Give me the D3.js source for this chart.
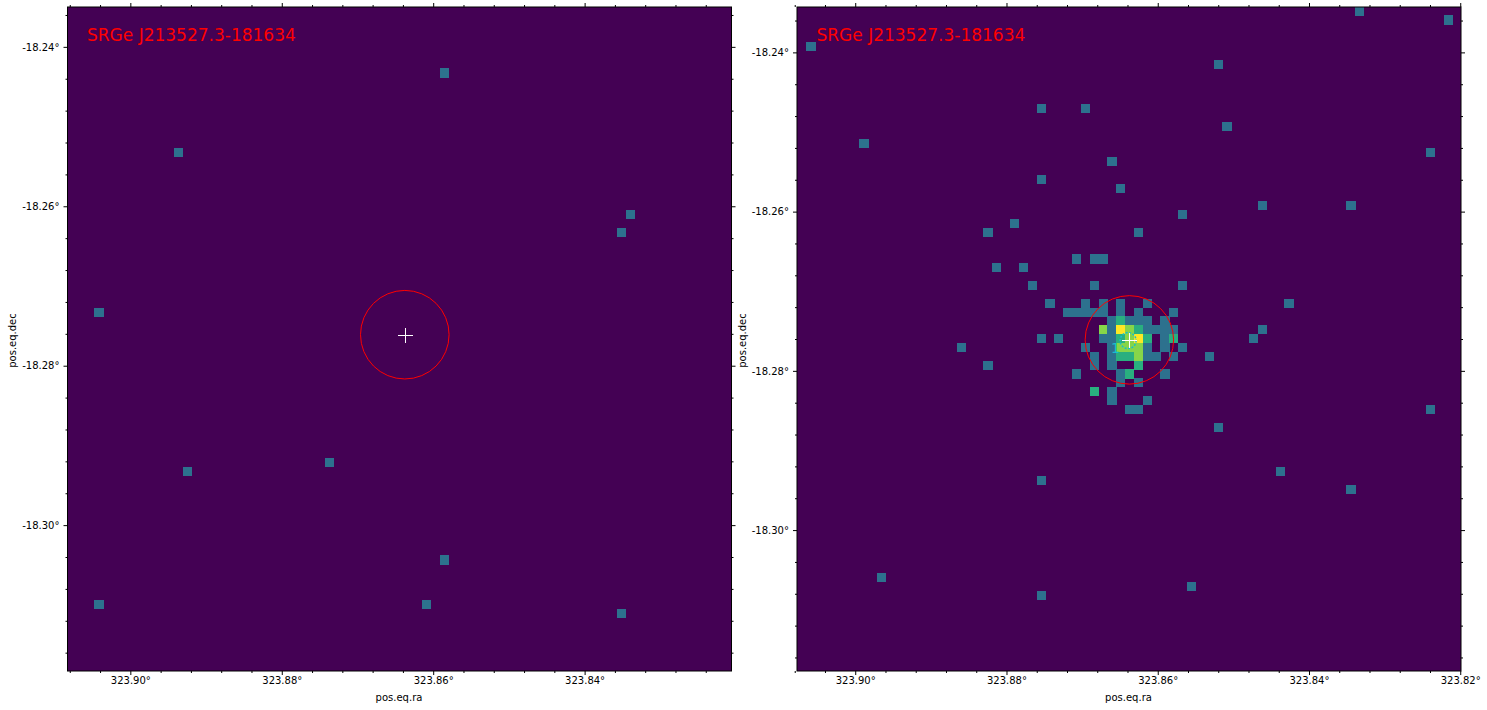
<!DOCTYPE html>
<html>
<head>
<meta charset="utf-8">
<script src="https://cdn.jsdelivr.net/npm/d3@7"></script>
<style>
  html, body { margin: 0; padding: 0; background: #fff; overflow: hidden; }
  text { font-family: "DejaVu Sans", sans-serif; }
</style>
</head>
<body>
<script>

// image grid is 75 x 75 bins, each entry is [column, row, counts]
var grid_size = 75;

var left_cells = [
  [42,7,1],[12,16,1],[63,23,1],[62,25,1],[3,34,1],[29,51,1],[13,52,1],
  [42,62,1],[3,67,1],[40,67,1],[62,68,1]
];

var right_cells = [
  [63,0,1],[73,1,1],[1,4,1],[47,6,1],[27,11,1],[32,11,1],[48,13,1],[7,15,1],
  [71,16,1],[35,17,1],[27,19,1],[36,20,1],[52,22,1],[62,22,1],[43,23,1],
  [24,24,1],[21,25,1],[38,25,1],[31,28,1],[33,28,1],[34,28,1],[22,29,1],
  [25,29,1],[26,31,1],[33,31,1],[43,31,1],[55,33,1],
  [28,33,1],[32,33,1],[34,33,1],[36,33,1],[39,33,1],
  [30,34,1],[31,34,1],[32,34,1],[33,34,1],[34,34,1],[36,34,1],[38,34,1],[42,34,1],
  [35,35,1],[36,35,2],[37,35,1],[38,35,1],[39,35,1],[41,35,1],
  [34,36,3],[35,36,1],[36,36,4],[37,36,3],[38,36,2],[39,36,1],[40,36,1],[41,36,1],[42,36,1],[52,36,1],
  [27,37,1],[29,37,1],[34,37,1],[35,37,1],[36,37,2],[37,37,3],[38,37,4],[39,37,2],[41,37,1],[42,37,2],[51,37,1],
  [18,38,1],[32,38,1],[35,38,1],[36,38,3],[37,38,3],[38,38,3],[39,38,1],[41,38,1],[43,38,1],
  [33,39,1],[35,39,1],[36,39,2],[37,39,2],[38,39,3],[39,39,1],[40,39,1],[42,39,1],[46,39,1],
  [21,40,1],[33,40,1],[35,40,1],[38,40,2],
  [31,41,1],[36,41,1],[37,41,2],[41,41,1],
  [36,42,1],[38,42,1],
  [33,43,2],[35,43,1],[35,44,1],[39,44,1],[37,45,1],[38,45,1],
  [71,45,1],[47,47,1],[54,52,1],[27,53,1],[62,54,1],[9,64,1],[44,65,1],[27,66,1]
];

// colour stop for each count
var count_levels = [0, 1, 2, 3, 4];
var count_colors = [0, 0.37, 0.63, 0.82, 1];

// axis ticks in degrees
var ra_major = [323.90, 323.88, 323.86, 323.84, 323.82];
var ra_minor = [323.908, 323.904, 323.896, 323.892, 323.888, 323.884, 323.876, 323.872,
                323.868, 323.864, 323.856, 323.852, 323.848, 323.844, 323.836, 323.832,
                323.828, 323.824];
var dec_major = [-18.24, -18.26, -18.28, -18.30];
var dec_minor = [-18.236, -18.244, -18.248, -18.252, -18.256, -18.264, -18.268, -18.272,
                 -18.276, -18.284, -18.288, -18.292, -18.296, -18.304, -18.308, -18.312,
                 -18.316];

// source position from the name, J2000
var source_name = "SRGe J213527.3-181634";
var source_ra = 323.86375;
var source_dec = -18.27611;
var circle_deg = 20 / 3600;

// sky range of each image
var left_ra = [323.9083, 323.8206];
var left_dec = [-18.2350, -18.3183];
var right_ra = [323.9077, 323.8199];
var right_dec = [-18.2343, -18.3177];

var svg = d3.select("body")
    .append("svg")
    .attr("width", 1487)
    .attr("height", 710);

var color = d3.scaleLinear().domain(count_levels).range(count_colors);

draw_panel(67.5, 0.3, -52, left_cells, left_ra, left_dec, false);
draw_panel(797, 0.5, -51, right_cells, right_ra, right_dec, true);

function draw_panel(x0, bin_shift, dec_label_x, cells, ra_range, dec_range, overlay) {

    var size = 664;
    var g = svg.append("g").attr("transform", "translate(" + x0 + ",7)");

    // scales for the image bins and for the sky
    var bin_x = d3.scaleLinear().domain([0, grid_size]).range([bin_shift, size + bin_shift]);
    var bin_y = d3.scaleLinear().domain([0, grid_size]).range([-0.5, size - 0.5]);
    var x_scale = d3.scaleLinear().domain(ra_range).range([0, size]);
    var y_scale = d3.scaleLinear().domain(dec_range).range([0, size]);

    g.append("rect")
        .attr("width", size)
        .attr("height", size)
        .attr("fill", d3.interpolateViridis(0));

    g.selectAll(".cell")
        .data(cells)
        .enter()
        .append("rect")
        .attr("class", "cell")
        .attr("x", function(d) { return bin_x(d[0]); })
        .attr("y", function(d) { return Math.max(0, bin_y(d[1])); })
        .attr("width", size / grid_size + 0.3)
        .attr("height", size / grid_size + 0.3)
        .attr("shape-rendering", "crispEdges")
        .attr("fill", function(d) { return d3.interpolateViridis(color(d[2])); });

    // source circle and cross
    var cx = x_scale(source_ra);
    var cy = y_scale(source_dec);
    var radius = y_scale(dec_range[0] - circle_deg) - y_scale(dec_range[0]);

    g.append("circle")
        .attr("cx", cx).attr("cy", cy).attr("r", radius)
        .attr("fill", "none").attr("stroke", "#f00").attr("stroke-width", 1);

    if (overlay) {
        g.append("circle")
            .attr("cx", cx - 1.3).attr("cy", cy + 0.7).attr("r", 8)
            .attr("fill", "none").attr("stroke", "#17becf")
            .attr("stroke-width", 1.5).attr("stroke-dasharray", "2,1.5");
        g.append("text")
            .attr("x", cx - 18.5).attr("y", cy + 13)
            .attr("font-size", 14).attr("fill", "#17becf")
            .text("1");
    }

    var cross = 7.5;
    g.append("path")
        .attr("d", "M" + (cx + 0.4 - cross) + "," + (cy + 0.4) + "H" + (cx + 0.4 + cross) +
                   "M" + (cx + 0.4) + "," + (cy + 0.4 - cross) + "V" + (cy + 0.4 + cross))
        .attr("stroke", "#fff").attr("stroke-width", 1).attr("fill", "none")
        .attr("shape-rendering", "crispEdges");

    g.append("text")
        .attr("x", 19.5)
        .attr("y", 34)
        .attr("font-size", 17)
        .attr("fill", "#f00")
        .text(source_name);

    // frame
    g.append("rect")
        .attr("width", size)
        .attr("height", size)
        .attr("fill", "none")
        .attr("stroke", "#000")
        .attr("stroke-width", 1);

    var ra_in = ra_major.filter(function(d) { return d <= ra_range[0] && d >= ra_range[1]; });
    var ra_fmt = function(d) { return d.toFixed(2) + "\u00b0"; };
    var dec_fmt = function(d) { return d.toFixed(2) + "\u00b0"; };

    // minor and major ticks on all four sides, labels only bottom and left
    add_axis(g, d3.axisTop(x_scale).tickValues(ra_minor).tickSize(2).tickFormat(""), 0, 0);
    add_axis(g, d3.axisTop(x_scale).tickValues(ra_in).tickSize(4).tickFormat(""), 0, 0);
    add_axis(g, d3.axisBottom(x_scale).tickValues(ra_minor).tickSize(2).tickFormat(""), 0, size);
    add_axis(g, d3.axisBottom(x_scale).tickValues(ra_in).tickSize(4).tickPadding(2).tickFormat(ra_fmt), 0, size);
    add_axis(g, d3.axisLeft(y_scale).tickValues(dec_minor).tickSize(2).tickFormat(""), 0, 0);
    add_axis(g, d3.axisLeft(y_scale).tickValues(dec_major).tickSize(4).tickPadding(4).tickFormat(dec_fmt), 0, 0);
    add_axis(g, d3.axisRight(y_scale).tickValues(dec_minor).tickSize(2).tickFormat(""), size, 0);
    add_axis(g, d3.axisRight(y_scale).tickValues(dec_major).tickSize(4).tickFormat(""), size, 0);

    // axis names
    g.append("text")
        .attr("x", size / 2 - 0.5)
        .attr("y", 694)
        .attr("text-anchor", "middle")
        .attr("font-size", 10)
        .attr("fill", "#000")
        .text("pos.eq.ra");

    g.append("text")
        .attr("transform", "translate(" + dec_label_x + "," + (size / 2 + 1.5) + ") rotate(-90)")
        .attr("text-anchor", "middle")
        .attr("font-size", 10)
        .attr("fill", "#000")
        .text("pos.eq.dec");
}

function add_axis(g, axis, dx, dy) {
    var a = g.append("g")
        .attr("transform", "translate(" + dx + "," + dy + ")")
        .call(axis);
    a.select(".domain").remove();
    a.selectAll("text")
        .attr("font-family", "DejaVu Sans")
        .attr("font-size", 10)
        .attr("fill", "#000");
}

</script>
</body>
</html>
